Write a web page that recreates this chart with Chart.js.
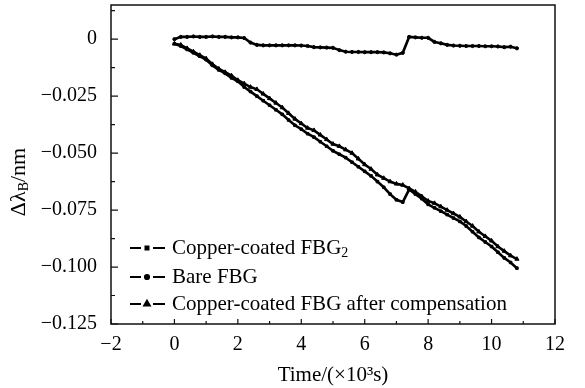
<!DOCTYPE html>
<html>
<head>
<meta charset="utf-8">
<script src="https://cdn.jsdelivr.net/npm/chart.js@4/dist/chart.umd.min.js"></script>
<style>
  html, body { margin: 0; padding: 0; background: #fff; }
  #wrap { width: 585px; height: 388px; }
</style>
</head>
<body>
<div id="wrap"><canvas id="c" width="585" height="388"></canvas></div>
<script>
// time axis, x10^3 s
const times = [0,0.2,0.4,0.6,0.8,1.0,1.2,1.4,1.6,1.8,2.0,2.2,2.4,2.6,2.8,3.0,3.2,3.4,3.6,3.8,
  4.0,4.2,4.4,4.6,4.8,5.0,5.2,5.4,5.6,5.8,6.0,6.2,6.4,6.6,6.8,7.0,7.2,7.4,7.6,7.8,
  8.0,8.2,8.4,8.6,8.8,9.0,9.2,9.4,9.6,9.8,10.0,10.2,10.4,10.6,10.8];

// delta lambda_B in nm
const copperFBG2 = [-0.002,-0.003,-0.0045,-0.006,-0.0075,-0.009,-0.0115,-0.0135,-0.015,-0.017,
  -0.0185,-0.021,-0.023,-0.025,-0.027,-0.029,-0.031,-0.033,-0.0355,-0.0378,
  -0.0395,-0.0415,-0.043,-0.045,-0.047,-0.049,-0.0505,-0.052,-0.054,-0.056,
  -0.058,-0.06,-0.0625,-0.065,-0.068,-0.0705,-0.0715,-0.066,-0.068,-0.070,
  -0.0725,-0.074,-0.0755,-0.077,-0.0785,-0.080,-0.082,-0.0845,-0.087,-0.089,
  -0.091,-0.0935,-0.096,-0.098,-0.1005];
const bareFBG = [0,0.001,0.001,0.0012,0.001,0.001,0.0012,0.001,0.001,0.0008,
  0.0008,0.0005,-0.0015,-0.0025,-0.0027,-0.0027,-0.0027,-0.0027,-0.0027,-0.0027,
  -0.0028,-0.003,-0.0035,-0.0036,-0.0037,-0.0038,-0.0048,-0.0055,-0.0056,-0.0056,
  -0.0057,-0.0057,-0.0057,-0.0058,-0.0062,-0.0068,-0.006,0.001,0.0008,0.0006,
  0.0006,-0.0012,-0.0018,-0.0025,-0.0028,-0.0029,-0.003,-0.003,-0.003,-0.0031,
  -0.0031,-0.0032,-0.0035,-0.0033,-0.004];
const compensated = [-0.002,-0.0025,-0.004,-0.0055,-0.007,-0.0085,-0.011,-0.013,-0.0145,-0.016,
  -0.018,-0.0195,-0.021,-0.022,-0.024,-0.026,-0.028,-0.030,-0.0325,-0.035,
  -0.037,-0.039,-0.040,-0.042,-0.044,-0.046,-0.047,-0.0485,-0.050,-0.0525,
  -0.055,-0.057,-0.0595,-0.061,-0.0625,-0.0635,-0.064,-0.0655,-0.067,-0.069,
  -0.071,-0.072,-0.0735,-0.075,-0.0765,-0.078,-0.080,-0.082,-0.0845,-0.0865,
  -0.0885,-0.091,-0.093,-0.095,-0.0965];

const seriesNames = ["Copper-coated FBG", "Bare FBG", "Copper-coated FBG after compensation"];
const xTicks = [-2,0,2,4,6,8,10,12];
const yTicks = [0,-0.025,-0.05,-0.075,-0.1,-0.125];

const SERIF = '"Liberation Serif", "Times New Roman", serif';

function toPoints(ys) {
  return times.map((t, i) => ({x: t, y: ys[i]}));
}
function minusFmt(v, digits) {
  if (Math.abs(v) < 1e-9) return "0";
  let s = Math.abs(v).toFixed(digits);
  return (v < 0 ? "\u2212" : "") + s;
}

// frame, inward ticks, axis titles and the legend
const decor = {
  id: "decor",
  afterDraw(chart) {
    const ctx = chart.ctx, a = chart.chartArea;
    const xs = chart.scales.x, ys = chart.scales.y;
    ctx.save();
    ctx.strokeStyle = "#111";
    ctx.lineWidth = 1.5;
    ctx.strokeRect(a.left, a.top, a.right - a.left, a.bottom - a.top);
    ctx.lineWidth = 1.2;
    ctx.beginPath();
    for (let v = -2; v <= 12; v += 1) {
      let px = xs.getPixelForValue(v);
      let len = (v % 2 === 0) ? 5 : 3;
      ctx.moveTo(px, a.bottom); ctx.lineTo(px, a.bottom - len);
    }
    for (let v = -0.125; v <= 0.0151; v += 0.0125) {
      let py = ys.getPixelForValue(v);
      let major = Math.abs(Math.round(v / 0.025) * 0.025 - v) < 1e-6;
      ctx.moveTo(a.left, py); ctx.lineTo(a.left + (major ? 7 : 4), py);
    }
    ctx.stroke();

    ctx.fillStyle = "#000";
    // x title
    ctx.font = "21px " + SERIF;
    ctx.textAlign = "center";
    ctx.textBaseline = "middle";
    ctx.fillText("Time/(\u00d710\u00b3s)", (a.left + a.right) / 2, 375);

    // y title, rotated, with subscript B
    ctx.save();
    ctx.translate(19, 182);
    ctx.rotate(-Math.PI / 2);
    ctx.textAlign = "left";
    ctx.textBaseline = "middle";
    ctx.font = "22px " + SERIF;
    let w1 = ctx.measureText("\u0394\u03bb").width;
    let w3 = ctx.measureText("/nm").width;
    ctx.font = "14px " + SERIF;
    let w2 = ctx.measureText("B").width;
    let x0 = -(w1 + w2 + w3) / 2;
    ctx.font = "22px " + SERIF;
    ctx.fillText("\u0394\u03bb", x0, 0);
    ctx.font = "14px " + SERIF;
    ctx.fillText("B", x0 + w1, 5);
    ctx.font = "22px " + SERIF;
    ctx.fillText("/nm", x0 + w1 + w2, 0);
    ctx.restore();

    // legend
    const rows = [248, 277, 304];
    const styles = ["rect", "circle", "triangle"];
    rows.forEach((y, i) => {
      ctx.strokeStyle = "#000";
      ctx.lineWidth = 2.2;
      ctx.beginPath();
      ctx.moveTo(130, y); ctx.lineTo(141, y);
      ctx.moveTo(153, y); ctx.lineTo(165, y);
      ctx.stroke();
      Chart.helpers.drawPoint(ctx, {pointStyle: styles[i], radius: i === 2 ? 3 : 2, rotation: 0, borderWidth: 1}, 147, y);
      ctx.fillStyle = "#000";
      ctx.fill();
      ctx.font = "21px " + SERIF;
      ctx.textAlign = "left";
      ctx.textBaseline = "middle";
      ctx.fillText(seriesNames[i], 172, y);
      if (i === 0) {
        let w = ctx.measureText(seriesNames[i]).width;
        ctx.font = "14px " + SERIF;
        ctx.fillText("2", 172 + w, y + 5);
      }
    });
    ctx.restore();
  }
};

const ds = (label, ys, style, r) => ({
  label: label,
  data: toPoints(ys),
  borderColor: "#000",
  backgroundColor: "#000",
  borderWidth: 2.6,
  pointStyle: style,
  pointRadius: r,
  pointBorderWidth: 1,
  tension: 0,
  fill: false
});

new Chart(document.getElementById("c"), {
  type: "line",
  data: {
    datasets: [
      ds(seriesNames[0] + "2", copperFBG2, "rect", 1.8),
      ds(seriesNames[1], bareFBG, "circle", 1.6),
      ds(seriesNames[2], compensated, "triangle", 2.4)
    ]
  },
  options: {
    responsive: false,
    animation: false,
    layout: {padding: {left: 0, right: 30, top: 5, bottom: 0}},
    plugins: {legend: {display: false}, tooltip: {enabled: false}},
    scales: {
      x: {
        type: "linear",
        min: -2, max: 12,
        afterFit: s => { s.height = 64; s.paddingLeft = 0; s.paddingRight = 0; },
        afterBuildTicks: s => { s.ticks = xTicks.map(v => ({value: v})); },
        grid: {display: false, drawTicks: false},
        border: {display: false},
        ticks: {
          color: "#000", padding: 9,
          font: {family: SERIF, size: 20},
          callback: v => minusFmt(v, 0)
        }
      },
      y: {
        type: "linear",
        min: -0.125, max: 0.015,
        afterFit: s => { s.width = 111; s.paddingTop = 0; s.paddingBottom = 0; },
        afterBuildTicks: s => { s.ticks = yTicks.map(v => ({value: v})); },
        grid: {display: false, drawTicks: false},
        border: {display: false},
        ticks: {
          color: "#000", padding: 14,
          font: {family: SERIF, size: 20},
          callback: v => minusFmt(v, 3)
        }
      }
    }
  },
  plugins: [decor]
});
</script>
</body>
</html>
